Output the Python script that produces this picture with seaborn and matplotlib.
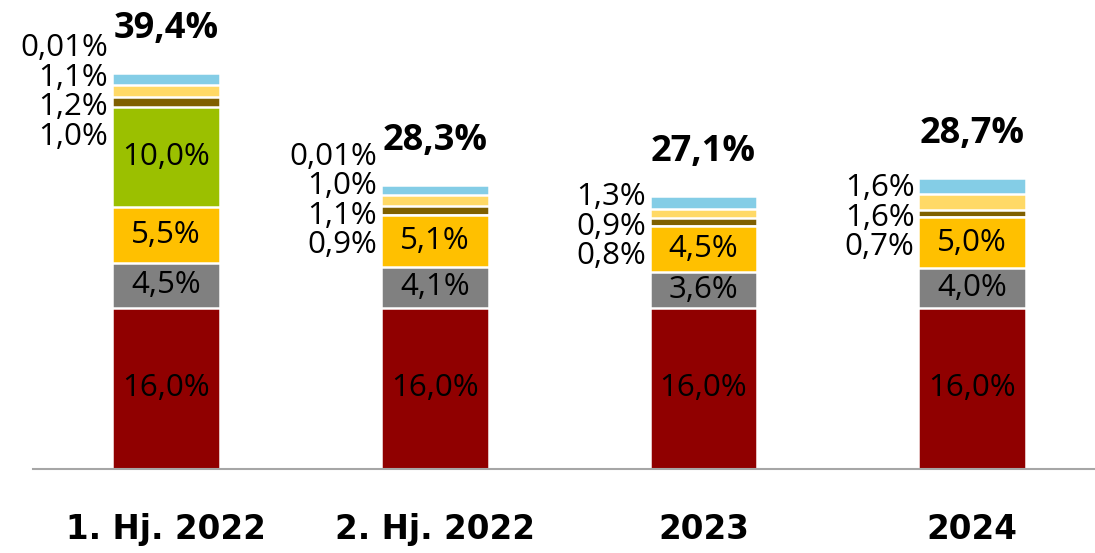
import numpy as np
import pandas as pd
import seaborn as sns
import matplotlib.pyplot as plt

# Daten (Anteile in %)
kategorien = ["1. Hj. 2022", "2. Hj. 2022", "2023", "2024"]
rot = [16.0, 16.0, 16.0, 16.0]
grau = [4.5, 4.1, 3.6, 4.0]
gelb = [5.5, 5.1, 4.5, 5.0]
gruen = [10.0, 0.0, 0.0, 0.0]
braun = [1.0, 0.9, 0.8, 0.7]
hellgelb = [1.2, 1.1, 0.9, 1.6]
blau = [1.1, 1.0, 1.3, 1.6]
rest = [0.01, 0.01, 0.0, 0.0]
gesamt = [39.4, 28.3, 27.1, 28.7]

schichten = [rot, grau, gelb, gruen, braun, hellgelb, blau, rest]
farben = ["#900000", "#808080", "#FFC000", "#9BC000", "#806000", "#FFD966", "#84CDE6", "#84CDE6"]

sns.set_theme(style="white")
plt.rcParams["font.family"] = ["Open Sans", "DejaVu Sans"]

fig = plt.figure(figsize=(10.95, 5.53), dpi=100)
ax = fig.add_axes([0, 0.152, 1, 0.848])

kum = np.cumsum(np.array(schichten), axis=0)
# von oben nach unten zeichnen, damit die unteren Balken die oberen verdecken
for i in range(len(schichten) - 1, -1, -1):
    df = pd.DataFrame({"kat": kategorien, "wert": kum[i]})
    sns.barplot(data=df, x="kat", y="wert", color=farben[i], saturation=1,
                width=0.4, edgecolor="white", linewidth=1.8, ax=ax, errorbar=None)

def fmt(v, d=1):
    return f"{v:.{d}f}".replace(".", ",") + "%"

px = 1 / 10.06  # 1 Pixel in Prozentpunkten
for j in range(len(kategorien)):
    # Beschriftung innerhalb der Balken
    unten = 0
    for werte in [rot, grau, gelb, gruen]:
        v = werte[j]
        if v > 0:
            ax.text(j, unten + v / 2, fmt(v), ha="center", va="center",
                    fontsize=22.5, color="black")
        unten += v
    # kleine Anteile links neben dem Balken
    kleine = [braun[j], hellgelb[j], blau[j]]
    texte = [fmt(v) for v in kleine]
    if rest[j] > 0:
        texte.append(fmt(rest[j], 2))
    for k, t in enumerate(texte):
        ax.text(j - 0.215, unten - 30 * px + k * 29.5 * px, t, ha="right", va="center",
                fontsize=22.5, color="black")
    # Summe
    top = kum[-1][j]
    ax.text(j, top + 44 * px, fmt(gesamt[j]), ha="center", va="center",
            fontsize=26, fontweight="bold", color="black")

ax.set_xlim(-0.618, 3.457)
ax.set_ylim(0, 46.6)
ax.set_xlabel("")
ax.set_ylabel("")
ax.set_yticks([])
ax.tick_params(axis="x", length=0, pad=32)
for lab in ax.get_xticklabels():
    lab.set_fontsize(23.5)
    lab.set_fontweight("bold")
    lab.set_color("black")
    lab.set_family(["DejaVu Sans"])
for s in ["top", "right", "left"]:
    ax.spines[s].set_visible(False)
ax.spines["bottom"].set_color("#A6A6A6")
ax.spines["bottom"].set_linewidth(1.5)
ax.spines["bottom"].set_bounds(-0.495, 3.457)

fig.savefig("out.png", dpi=100)
